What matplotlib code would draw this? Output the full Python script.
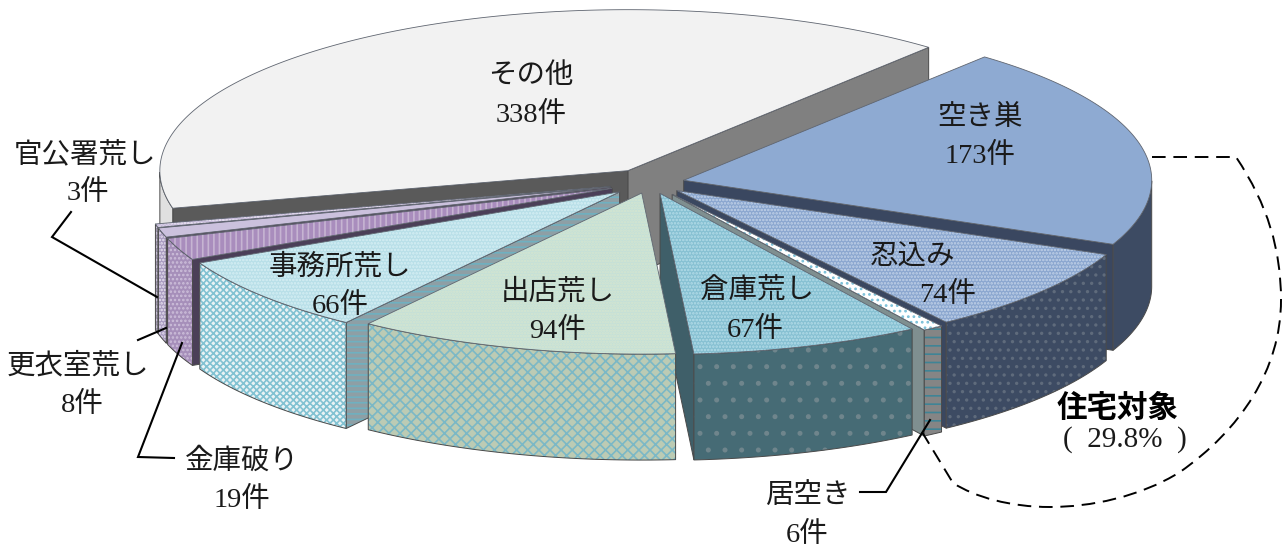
import numpy as np
import matplotlib
matplotlib.use("Agg")
import matplotlib.pyplot as plt
from matplotlib.patches import Polygon, PathPatch
from matplotlib.path import Path

FONT = ['Liberation Serif', 'Noto Sans CJK JP']
plt.rcParams['font.family'] = FONT
plt.rcParams['hatch.linewidth'] = 1.2

# data (clockwise from the back right, as in the reference)
categories = ['空き巣', '忍込み', '居空き', '倉庫荒し', '出店荒し', '事務所荒し',
              '金庫破り', '更衣室荒し', '官公署荒し', 'その他']
counts = [173, 74, 6, 67, 94, 66, 19, 8, 3, 338]
explode = [0.074, 0.074, 0.085, 0.068, 0.065, 0.085, 0.087, 0.087, 0.087, 0.09]
share_label = '(  29.8%  )'
group_label = '住宅対象'

# style: top, top hatch, top hatch colour, side, side hatch, side hatch colour, lo face, hi face
styles = [
    ('#8eaad2', None, None, '#3d4b63', None, None, '#3a4760', '#3a4862'),
    ('#8aa6cf', '.....', '#c2d2e8', '#3d4b63', '..', '#5f6b7c', '#3a4760', '#3a4862'),
    ('#ffffff', '...', '#7cc0d8', '#858585', '--', '#3f8496', '#7f8f90', '#4f7f88'),
    ('#86c0d2', '.....', '#b4dce8', '#466b75', '.', '#6f858c', '#3f5f69', '#3f5f69'),
    ('#c4e0d8', '......', '#d6e6cf', '#bccbb4', 'xxx', '#7bb8c6', '#9db', '#9db'),
    ('#b8dfe8', '.....', '#d6eff4', '#eaf3f5', 'xxxxx', '#82c2d2', '#8aa6ac', '#8e9fa5'),
    ('#a98dbd', '|||', '#c6b4d2', '#a68fba', '....', '#cdbfda', '#4b3f58', '#4b3f58'),
    ('#cbc1dd', None, None, '#a99bc0', '.....', '#e8e2f0', '#5a5064', '#5a5064'),
    ('#c8bddb', '.....', '#ede8f4', '#9a93a8', '.....', '#d8cfe5', '#5a5064', '#55505f'),
    ('#f2f2f2', None, None, '#e0e0e0', None, None, '#808080', '#5a5a5a'),
]

CX, CY = 650.0, 183.0
RX, RY, DEPTH = 468.0, 161.0, 106.0
START = 50.0

fig = plt.figure(figsize=(12.84, 5.48), dpi=100)
ax = fig.add_axes([0, 0, 1, 1])
ax.set_xlim(0, 1284)
ax.set_ylim(548, 0)
ax.axis('off')

fracs = np.array(counts) / sum(counts) * 360.0
hi_angles = START - np.concatenate(([0], np.cumsum(fracs)[:-1]))
lo_angles = hi_angles - fracs


def pt(a, ox, oy):
    r = np.radians(a)
    return ox + RX * np.cos(r), oy - RY * np.sin(r)


def face(points, fc, hatch, hc, z, edge='#4a4a4a', lw=0.7):
    if hatch:
        ax.add_patch(Polygon(points, closed=True, facecolor=fc, edgecolor=hc,
                             hatch=hatch, linewidth=0, zorder=z))
        ax.add_patch(Polygon(points, closed=True, fill=False, edgecolor=edge,
                             linewidth=lw, zorder=z))
    else:
        ax.add_patch(Polygon(points, closed=True, facecolor=fc, edgecolor=edge,
                             linewidth=lw, zorder=z))


bisectors = (hi_angles + lo_angles) / 2
order = np.argsort(-np.sin(np.radians(bisectors)))
for rank, i in enumerate(order):
    lo, hi = lo_angles[i], hi_angles[i]
    bis = np.radians(bisectors[i])
    ox = CX + RX * explode[i] * np.cos(bis)
    oy = CY - RY * explode[i] * np.sin(bis)
    top, th, thc, side, sh, shc, lof, hif = styles[i]
    z = 2 + rank
    if np.cos(np.radians(lo)) > 0:
        px, py = pt(lo, ox, oy)
        face([(ox, oy), (px, py), (px, py + DEPTH), (ox, oy + DEPTH)], lof, None, None, z)
    if np.cos(np.radians(hi)) < 0:
        px, py = pt(hi, ox, oy)
        hatch = '---' if i == 5 else None
        face([(ox, oy), (px, py), (px, py + DEPTH), (ox, oy + DEPTH)], hif, hatch,
             '#6fb0c0', z)
    # outer wall: the part of the rim facing the viewer
    grid = np.linspace(lo, hi, 200)
    vis = grid[np.sin(np.radians(grid)) <= 0]
    if len(vis) > 1:
        upper = [pt(a, ox, oy) for a in vis]
        lower = [(x, y + DEPTH) for x, y in upper][::-1]
        face(upper + lower, side, sh, shc, z)
    arc = [pt(a, ox, oy) for a in grid]
    face([(ox, oy)] + arc, top, th, thc, z, edge='#5f6570', lw=0.6)

# labels: x name, y name, x count, y count
TS = 20.5
labels = {
    'その他': (531, 76, 531, 115), '空き巣': (980, 118, 980, 156),
    '忍込み': (913, 258, 948, 295), '倉庫荒し': (757, 291, 755, 330),
    '出店荒し': (558, 293, 558, 331), '事務所荒し': (340, 268, 340, 306),
    '官公署荒し': (85, 155, 88, 193), '更衣室荒し': (78, 366, 82, 405),
    '金庫破り': (242, 461, 242, 500), '居空き': (808, 496, 807, 535),
}
for name, n in zip(categories, counts):
    x1, y1, x2, y2 = labels[name]
    ax.text(x1, y1, name, ha='center', va='center', fontsize=TS, color='#1a1a1a', zorder=40)
    ax.text(x2, y2, f'{n}件', ha='center', va='center', fontsize=TS, color='#1a1a1a', zorder=40)
ax.text(1118, 408, group_label, ha='center', va='center', fontsize=22, fontweight='bold',
        color='black', family='Noto Sans CJK JP', zorder=40)
ax.text(1125, 440, share_label, ha='center', va='center', fontsize=21, color='#1a1a1a', zorder=40)

# leader lines
for xs, ys in [((71, 52, 157), (212, 237, 297)),
               ((138, 166), (340, 328)),
               ((182, 138, 174), (343, 457, 458)),
               ((930, 886, 860), (420, 492, 492))]:
    ax.plot(xs, ys, color='black', lw=1.5, zorder=41, solid_joinstyle='miter')

# dashed bracket for the residential group
verts = [(1152, 157), (1236, 157),
         (1268, 205), (1281, 250), (1281, 300),
         (1281, 370), (1240, 430), (1180, 472),
         (1140, 497), (1090, 507), (1050, 507),
         (1010, 507), (975, 497), (953, 483),
         (922, 432)]
codes = [Path.MOVETO, Path.LINETO] + [Path.CURVE4] * 12 + [Path.LINETO]
ax.add_patch(PathPatch(Path(verts, codes), fill=False, edgecolor='black', lw=1.4,
                       linestyle=(0, (7, 4)), zorder=41))

fig.savefig('out.png', dpi=100)
